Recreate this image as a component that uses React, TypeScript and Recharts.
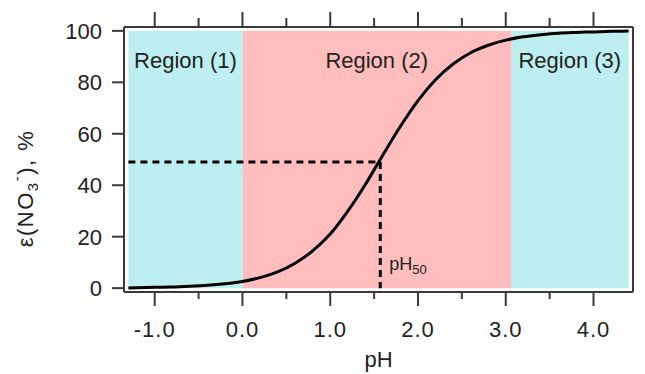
import {
  ComposedChart,
  Line,
  XAxis,
  YAxis,
  ReferenceArea,
  ReferenceLine,
} from "recharts";

// curve
const phValues = [
  -1.3, -1.0, -0.8, -0.6, -0.4, -0.2, 0.0, 0.2, 0.4, 0.6, 0.8, 1.0, 1.2, 1.4,
  1.57, 1.8, 2.0, 2.2, 2.4, 2.6, 2.8, 3.0, 3.2, 3.4, 3.6, 3.8, 4.0, 4.2, 4.4,
];
const efficiency = [
  0.1, 0.3, 0.4, 0.7, 1.1, 1.7, 2.6, 4.1, 6.3, 9.7, 14.5, 21.0, 29.9, 40.3,
  50.0, 62.9, 72.9, 81.0, 87.1, 91.5, 94.4, 96.4, 97.7, 98.5, 99.1, 99.4,
  99.6, 99.8, 99.9,
];

const regionNames = ["Region (1)", "Region (2)", "Region (3)"];
const regionBounds = [-1.3, 0.0, 3.06, 4.4];
const regionColors = ["#bdeff0", "#ffbdbd", "#bdeff0"];

const pH50 = 1.57;
const halfLevel = 49;

const xTicks = [-1.0, -0.5, 0.0, 0.5, 1.0, 1.5, 2.0, 2.5, 3.0, 3.5, 4.0];
const yTicks = [0, 20, 40, 60, 80, 100];

const data = phValues.map((ph, i) => ({ ph, eff: efficiency[i] }));

const FRAME = "#3a3a3a";
const TEXT = "#222";
const FONT = "'Liberation Sans', Arial, sans-serif";

function BottomTick({ x, y, payload }: any) {
  const major = Number.isInteger(payload.value);
  return (
    <g>
      <line x1={x} x2={x} y1={y} y2={y + (major ? 14 : 7)} stroke={FRAME} strokeWidth={2} />
      {major && (
        <text
          x={x}
          y={y + 45}
          textAnchor="middle"
          fontSize={22}
          fontFamily={FONT}
          letterSpacing={1}
          fill={TEXT}
        >
          {payload.value.toFixed(1)}
        </text>
      )}
    </g>
  );
}

function TopTick({ x, y, payload }: any) {
  const major = Number.isInteger(payload.value);
  return <line x1={x} x2={x} y1={y} y2={y - (major ? 15 : 9)} stroke={FRAME} strokeWidth={2} />;
}

function LeftTick({ x, y, payload }: any) {
  return (
    <g>
      <line x1={x} x2={x - 12} y1={y} y2={y} stroke={FRAME} strokeWidth={2} />
      <text
        x={x - 22}
        y={y + 8}
        textAnchor="end"
        fontSize={22}
        fontFamily={FONT}
        fill={TEXT}
      >
        {payload.value}
      </text>
    </g>
  );
}

function RightTick({ x, y }: any) {
  return <line x1={x} x2={x + 14} y1={y} y2={y} stroke={FRAME} strokeWidth={2} />;
}

function YLabel({ viewBox }: any) {
  const cx = 33;
  const cy = viewBox.y + viewBox.height / 2 + 29;
  return (
    <text
      x={cx}
      y={cy}
      transform={`rotate(-90, ${cx}, ${cy})`}
      textAnchor="middle"
      fontSize={22}
      fontFamily={FONT}
      letterSpacing={1.5}
      fill={TEXT}
    >
      ε(NO
      <tspan fontSize={15} dy={5}>3</tspan>
      <tspan fontSize={15} dy={-16}>-</tspan>
      <tspan dy={11}>), %</tspan>
    </text>
  );
}

function XLabel({ viewBox }: any) {
  return (
    <text
      x={viewBox.x + viewBox.width / 2}
      y={367}
      textAnchor="middle"
      fontSize={22}
      fontFamily={FONT}
      fill={TEXT}
    >
      pH
    </text>
  );
}

function PhLabel({ viewBox }: any) {
  const x = viewBox.x + 9;
  const y = viewBox.y + viewBox.height - 18;
  return (
    <text x={x} y={y} fontSize={18} fontFamily={FONT} fill={TEXT}>
      pH
      <tspan fontSize={13} dy={4}>50</tspan>
    </text>
  );
}

export default function App() {
  return (
    <div style={{ position: "absolute", left: 0, top: 0, background: "#fff" }}>
      <ComposedChart
        width={645}
        height={374}
        data={data}
        margin={{ top: 0, right: 0, bottom: 0, left: 0 }}
      >
        <XAxis
          dataKey="ph"
          type="number"
          domain={[-1.35, 4.45]}
          ticks={xTicks}
          interval={0}
          height={82}
          tickSize={0}
          tickMargin={0}
          tickLine={false}
          tick={<BottomTick />}
          axisLine={{ stroke: FRAME, strokeWidth: 2 }}
          label={{ content: <XLabel /> }}
        />
        <XAxis
          xAxisId="top"
          orientation="top"
          dataKey="ph"
          type="number"
          domain={[-1.35, 4.45]}
          ticks={xTicks}
          interval={0}
          height={27}
          tickSize={0}
          tickMargin={0}
          tickLine={false}
          tick={<TopTick />}
          axisLine={{ stroke: FRAME, strokeWidth: 2 }}
        />
        <YAxis
          type="number"
          domain={[-1.5, 101.5]}
          ticks={yTicks}
          interval={0}
          width={124}
          tickSize={0}
          tickMargin={0}
          tickLine={false}
          tick={<LeftTick />}
          axisLine={{ stroke: FRAME, strokeWidth: 2 }}
          label={{ content: <YLabel /> }}
        />
        <YAxis
          yAxisId="right"
          orientation="right"
          type="number"
          domain={[-1.5, 101.5]}
          ticks={yTicks}
          interval={0}
          width={12}
          tickSize={0}
          tickMargin={0}
          tickLine={false}
          tick={<RightTick />}
          axisLine={{ stroke: FRAME, strokeWidth: 2 }}
        />
        {regionNames.map((name, i) => (
          <ReferenceArea
            key={name}
            x1={regionBounds[i]}
            x2={regionBounds[i + 1]}
            y1={0}
            y2={100}
            fill={regionColors[i]}
            fillOpacity={1}
            stroke="none"
            label={{
              value: name,
              position: "insideTop",
              offset: 22,
              fontSize: 22,
              fontFamily: FONT,
              fill: TEXT,
            }}
          />
        ))}
        <ReferenceLine
          segment={[
            { x: regionBounds[0], y: halfLevel },
            { x: pH50, y: halfLevel },
          ]}
          stroke="#000"
          strokeWidth={3}
          strokeDasharray="7 5"
        />
        <ReferenceLine
          segment={[
            { x: pH50, y: halfLevel },
            { x: pH50, y: 0 },
          ]}
          stroke="#000"
          strokeWidth={3}
          strokeDasharray="7 5"
          label={{ content: <PhLabel /> }}
        />
        <Line
          dataKey="eff"
          type="monotone"
          stroke="#000"
          strokeWidth={3}
          dot={false}
          isAnimationActive={false}
        />
      </ComposedChart>
    </div>
  );
}
